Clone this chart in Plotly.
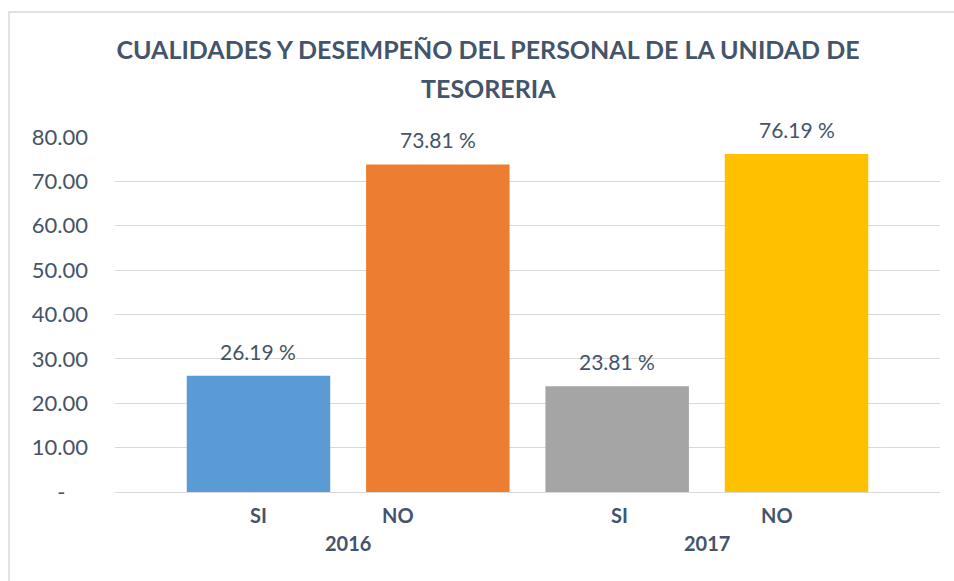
import plotly.graph_objects as go

# ---- data ----
years = ["2016", "2016", "2017", "2017"]
answers = ["SI", "NO", "SI", "NO"]
values = [26.19, 73.81, 23.81, 76.19]
bar_colors = ["#5B9BD5", "#ED7D31", "#A5A5A5", "#FFC000"]
y_ticks = [0, 10, 20, 30, 40, 50, 60, 70, 80]
title_lines = ["CUALIDADES Y DESEMPEÑO DEL PERSONAL DE LA UNIDAD DE", "TESORERIA"]

# layout tweaks (label nudges as seen in the original)
answer_label_xshift = [0, -40, 2, -20]

TEXT = "#44546A"
FONT = "Lato"

keys = [f"{y} {a}" for y, a in zip(years, answers)]

fig = go.Figure()
fig.add_trace(go.Bar(
    x=keys, y=values, width=0.8,
    marker=dict(color=bar_colors, line=dict(width=0)),
    hoverinfo="x+y",
))

annotations = []
for k, v in zip(keys, values):
    annotations.append(dict(
        x=k, y=v, xref="x", yref="y", text=f"{v:.2f} %", showarrow=False,
        yanchor="bottom", yshift=10, font=dict(family=FONT, size=21, color=TEXT)))
for k, a, s in zip(keys, answers, answer_label_xshift):
    annotations.append(dict(
        x=k, y=0, xref="x", yref="paper", text=f"<b>{a}</b>", showarrow=False,
        yanchor="middle", yshift=-23, xshift=s, font=dict(family=FONT, size=20, color=TEXT)))
unique_years = []
for y in years:
    if y not in unique_years:
        unique_years.append(y)
for y in unique_years:
    idx = [i for i, yy in enumerate(years) if yy == y]
    annotations.append(dict(
        x=sum(idx) / len(idx), y=0, xref="x", yref="paper", text=f"<b>{y}</b>",
        showarrow=False, yanchor="middle", yshift=-51,
        font=dict(family=FONT, size=20, color=TEXT)))

# second title line
annotations.append(dict(
    x=(488 - 115) / 825, y=(492 - 88) / 355, xref="paper", yref="paper",
    text=f"<b>{title_lines[1]}</b>", showarrow=False, xanchor="center", yanchor="middle",
    font=dict(family=FONT, size=25, color=TEXT)))

tick_text = ["-\u00a0\u00a0\u00a0\u00a0" if t == 0 else f"{t:.2f}" for t in y_ticks]

fig.update_layout(
    width=954, height=581,
    paper_bgcolor="white", plot_bgcolor="white",
    margin=dict(l=115, r=14, t=137, b=89),
    title=dict(text=f"<b>{title_lines[0]}</b>", x=488 / 954, xanchor="center", xref="container",
               y=1 - 50 / 581, yanchor="middle", yref="container",
               font=dict(family=FONT, size=25, color=TEXT)),
    showlegend=False,
    annotations=annotations,
    shapes=[dict(type="rect", xref="paper", yref="paper",
                 x0=-0.1285, x1=1.03, y0=-0.3, y1=1.352,
                 line=dict(color="#D9D9D9", width=1.5), fillcolor="rgba(0,0,0,0)",
                 layer="below")],
    xaxis=dict(type="category", range=[-0.8, 3.8], showticklabels=False,
               showgrid=False, zeroline=False, showline=False, fixedrange=True),
    yaxis=dict(range=[0, 80], tickvals=y_ticks, ticktext=tick_text,
               showgrid=True, gridcolor="#D9D9D9", gridwidth=1.2,
               zeroline=True, zerolinecolor="#D9D9D9", zerolinewidth=1.2,
               showline=False, ticks="", ticklabelstandoff=26,
               tickfont=dict(family=FONT, size=22, color=TEXT)),
    font=dict(family=FONT, color=TEXT),
)

fig.write_html("out.html", config={"displayModeBar": False},
               post_script="document.body.style.margin='0';")
